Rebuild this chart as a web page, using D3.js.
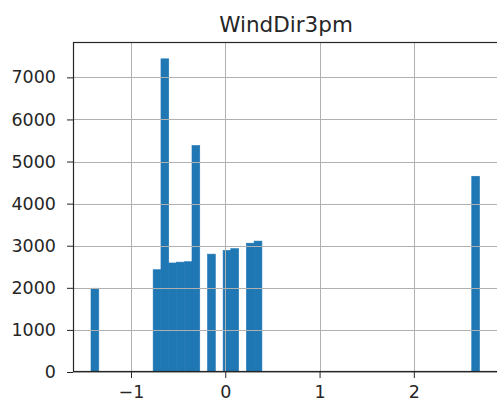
<!DOCTYPE html>
<html>
<head>
<meta charset="utf-8">
<script src="https://cdn.jsdelivr.net/npm/d3@7"></script>
<style>
  body { margin: 0; background: #fff; }
  text { font-family: "DejaVu Sans", sans-serif; }
</style>
</head>
<body>
<svg id="chart"></svg>
<script>
// histogram bins (left edge of each non-empty bin) and counts
const binWidth = 0.0824;
const binStarts = [-1.424, -0.765, -0.682, -0.600, -0.518, -0.435, -0.353, -0.188, -0.023, 0.059, 0.224, 0.306, 2.614];
const counts = [1990, 2430, 7440, 2590, 2610, 2620, 5380, 2800, 2890, 2930, 3060, 3110, 4650];
const xTicks = [-1, 0, 1, 2];
const yTicks = [0, 1000, 2000, 3000, 4000, 5000, 6000, 7000];
const title = "WindDir3pm";

const dataset = binStarts.map((x0, i) => ({ x0: x0, x1: x0 + binWidth, count: counts[i] }));

const drawWidth = 497;
const drawHeight = 401;
const margin = { top: 42, right: -2, bottom: 29, left: 73 };
const width = drawWidth - margin.left - margin.right;
const height = drawHeight - margin.top - margin.bottom;

const barColor = "#1f77b4";
const gridColor = "#b0b0b0";
const textColor = "#262626";

const svg = d3.select("#chart")
  .attr("width", drawWidth)
  .attr("height", drawHeight);

const g = svg.append("g")
  .attr("transform", "translate(" + margin.left + "," + margin.top + ")");

const xScale = d3.scaleLinear().domain([-1.615, 2.903]).range([0, width]);
const yScale = d3.scaleLinear().domain([0, 7840]).range([height, 0]);

// bars
g.selectAll(".bar")
  .data(dataset)
  .enter()
  .append("rect")
  .attr("class", "bar")
  .attr("x", (d) => xScale(d.x0))
  .attr("width", (d) => xScale(d.x1) - xScale(d.x0))
  .attr("y", (d) => yScale(d.count))
  .attr("height", (d) => height - yScale(d.count))
  .style("fill", barColor)
  .style("stroke", barColor)
  .style("stroke-width", 0.6);

// grid drawn above the bars, like matplotlib
g.append("g")
  .selectAll("line")
  .data(yTicks)
  .enter()
  .append("line")
  .attr("x1", 0)
  .attr("x2", width)
  .attr("y1", (d) => Math.round(yScale(d)) + 0.5)
  .attr("y2", (d) => Math.round(yScale(d)) + 0.5)
  .style("stroke", gridColor)
  .style("stroke-width", 1);

g.append("g")
  .selectAll("line")
  .data(xTicks)
  .enter()
  .append("line")
  .attr("x1", (d) => Math.round(xScale(d)) + 0.5)
  .attr("x2", (d) => Math.round(xScale(d)) + 0.5)
  .attr("y1", 0)
  .attr("y2", height)
  .style("stroke", gridColor)
  .style("stroke-width", 1);

const xAxis = d3.axisBottom(xScale)
  .tickValues(xTicks)
  .tickFormat((d) => (d < 0 ? "\u2212" + Math.abs(d) : d))
  .tickSize(6)
  .tickPadding(8)
  .tickSizeOuter(0);
const yAxis = d3.axisLeft(yScale)
  .tickValues(yTicks)
  .tickFormat(d3.format("d"))
  .tickSize(6)
  .tickPadding(11)
  .tickSizeOuter(0);

const gx = g.append("g")
  .attr("class", "x axis")
  .attr("transform", "translate(0," + height + ")")
  .call(xAxis);
const gy = g.append("g").attr("class", "y axis").call(yAxis);

[gx, gy].forEach((ax) => {
  ax.select(".domain").remove();
  ax.selectAll("line").style("stroke", textColor).style("stroke-width", 1);
  ax.selectAll("text")
    .style("font-size", "17.5px")
    .style("fill", textColor)
    .style("font-family", "DejaVu Sans, sans-serif");
});

// frame (spines)
g.append("rect")
  .attr("x", 0.5)
  .attr("y", 0.5)
  .attr("width", width - 1)
  .attr("height", height - 1)
  .style("fill", "none")
  .style("stroke", textColor)
  .style("stroke-width", 1.2);

svg.append("text")
  .attr("x", margin.left + width / 2)
  .attr("y", 32)
  .attr("text-anchor", "middle")
  .style("font-size", "21.5px")
  .style("fill", textColor)
  .text(title);
</script>
</body>
</html>
